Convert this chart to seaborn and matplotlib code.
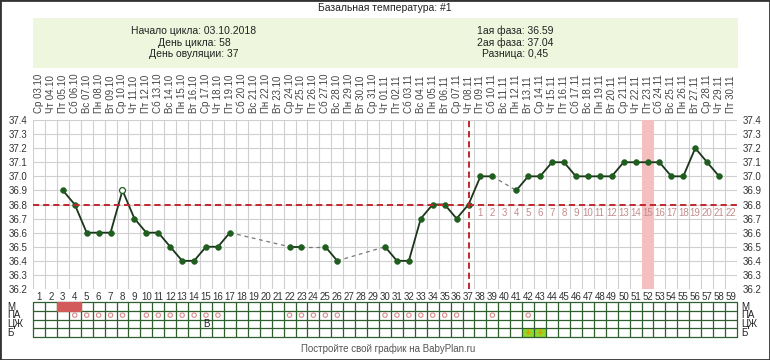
import numpy as np
import pandas as pd
import matplotlib.pyplot as plt
import seaborn as sns
from matplotlib.patches import Rectangle

# Chart data
weekdays = ['Ср', 'Чт', 'Пт', 'Сб', 'Вс', 'Пн', 'Вт'] * 8 + ['Ср', 'Чт', 'Пт']
dates = ['03.10', '04.10', '05.10', '06.10', '07.10', '08.10', '09.10', '10.10', '11.10', '12.10',
         '13.10', '14.10', '15.10', '16.10', '17.10', '18.10', '19.10', '20.10', '21.10', '22.10',
         '23.10', '24.10', '25.10', '26.10', '27.10', '28.10', '29.10', '30.10', '31.10', '01.11',
         '02.11', '03.11', '04.11', '05.11', '06.11', '07.11', '08.11', '09.11', '10.11', '11.11',
         '12.11', '13.11', '14.11', '15.11', '16.11', '17.11', '18.11', '19.11', '20.11', '21.11',
         '22.11', '23.11', '24.11', '25.11', '26.11', '27.11', '28.11', '29.11', '30.11']
cycle_days = list(range(1, 60))

temp_days = [3, 4, 5, 6, 7, 8, 9, 10, 11, 12, 13, 14, 15, 16, 17,
             22, 23, 25, 26,
             30, 31, 32, 33, 34, 35, 36, 37, 38, 39,
             41, 42, 43, 44, 45, 46, 47, 48, 49, 50, 51, 52, 53, 54, 55, 56, 57, 58]
temp_values = [36.9, 36.8, 36.6, 36.6, 36.6, 36.9, 36.7, 36.6, 36.6, 36.5, 36.4, 36.4, 36.5, 36.5, 36.6,
               36.5, 36.5, 36.5, 36.4,
               36.5, 36.4, 36.4, 36.7, 36.8, 36.8, 36.7, 36.8, 37.0, 37.0,
               36.9, 37.0, 37.0, 37.1, 37.1, 37.0, 37.0, 37.0, 37.0, 37.1, 37.1, 37.1, 37.1, 37.0, 37.0,
               37.2, 37.1, 37.0]
hollow_days = [8]

cover_temp = 36.8
ovulation_day = 37
highlight_day = 52
y_ticks = [36.2, 36.3, 36.4, 36.5, 36.6, 36.7, 36.8, 36.9, 37.0, 37.1, 37.2, 37.3, 37.4]

row_labels = ['М', 'ПА', 'ЦЖ', 'Б']
m_days = [3, 4]
pa_days = [4, 5, 6, 7, 8, 10, 11, 12, 13, 14, 15, 16, 22, 23, 24, 25, 26,
           30, 31, 32, 33, 34, 35, 36, 39, 42]
cm_days = [15]
cm_marks = ['В']
b_days = [42, 43]

info_left = ['Начало цикла: 03.10.2018', 'День цикла: 58', 'День овуляции: 37']
info_right = ['1ая фаза: 36.59', '2ая фаза: 37.04', 'Разница: 0,45']

df = pd.DataFrame({'day': temp_days, 'temp': temp_values})
df['segment'] = (df['day'].diff() != 1).cumsum()
df['hollow'] = df['day'].isin(hollow_days)

sns.set_style('white')
plt.rcParams['font.family'] = ['Liberation Sans', 'DejaVu Sans']

W, H = 770, 360
fig = plt.figure(figsize=(7.7, 3.6), dpi=100)


def frac(x0, y0, x1, y1):
    return [x0 / W, 1 - y1 / H, (x1 - x0) / W, (y1 - y0) / H]


# header
fig.text(385 / W, 1 - 8 / H, 'Базальная температура: #1', ha='center', va='center',
         fontsize=7.5, color='#222222')
fig.patches.append(Rectangle((33 / W, 1 - 68 / H), 705 / W, 50 / H, transform=fig.transFigure,
                             facecolor='#eef6dd', edgecolor='none', zorder=0))
for i, (l, r) in enumerate(zip(info_left, info_right)):
    y = 1 - (31 + 11.5 * i) / H
    fig.text(194 / W, y, l, ha='center', va='center', fontsize=7.5, color='#222222')
    fig.text(515 / W, y, r, ha='center', va='center', fontsize=7.5, color='#222222')

# temperature chart
ax = fig.add_axes(frac(33, 120, 737, 289))
ax.set_xlim(0.5, 59.5)
ax.set_ylim(36.2, 37.4)
for b in np.arange(0.5, 60.0, 1.0):
    ax.axvline(b, color='#d0d0d0', lw=0.8, zorder=0.5)
for t in y_ticks:
    ax.axhline(t, color='#d0d0d0', lw=0.8, zorder=0.5)
ax.axvspan(highlight_day - 0.5, highlight_day + 0.5, color='#f6bfbf', lw=0, zorder=1)

# dashed links over missing days
segs = [g for _, g in df.groupby('segment')]
for a, b in zip(segs[:-1], segs[1:]):
    ax.plot([a['day'].iloc[-1], b['day'].iloc[0]], [a['temp'].iloc[-1], b['temp'].iloc[0]],
            color='#777777', lw=0.9, ls=(0, (3, 3)), zorder=2)

sns.lineplot(data=df, x='day', y='temp', units='segment', estimator=None, color='#1b351b',
             lw=1.3, ax=ax, zorder=3, legend=False)
sns.scatterplot(data=df[~df['hollow']], x='day', y='temp', color='#1f5e1f', edgecolor='#1f5e1f',
                s=18, ax=ax, zorder=4, legend=False)
sns.scatterplot(data=df[df['hollow']], x='day', y='temp', color='white', edgecolor='#1f5e1f',
                linewidth=0.9, s=18, ax=ax, zorder=4, legend=False)

ax.axhline(cover_temp, color='#c0282d', lw=1.4, ls=(0, (3.2, 2)), zorder=5)
ax.axvline(ovulation_day, color='#c0282d', lw=1.4, ls=(0, (3.2, 2)), zorder=5)

for d in cycle_days:
    if d > ovulation_day:
        ax.text(d, cover_temp - 0.025, str(d - ovulation_day), ha='center', va='top',
                fontsize=7, color='#c48c8c', zorder=6)

ax.set_xticks(cycle_days)
ax.set_xticklabels([str(d) for d in cycle_days])
ax.set_yticks(y_ticks)
ax.set_yticklabels(['%.1f' % t for t in y_ticks])
ax.tick_params(axis='x', length=0, pad=2, labelsize=7, labelcolor='#333333')
ax.tick_params(axis='y', length=0, pad=4, labelsize=7, labelcolor='#333333',
               left=True, right=True, labelleft=True, labelright=True)
ax.set_xlabel('')
ax.set_ylabel('')
for s in ax.spines.values():
    s.set_visible(False)

top = ax.secondary_xaxis('top')
top.set_xticks(cycle_days)
top.set_xticklabels([w + ' ' + d for w, d in zip(weekdays, dates)], rotation=90)
top.tick_params(length=0, pad=5, labelsize=7, labelcolor='#444444')
for s in top.spines.values():
    s.set_visible(False)

# observation table
tab = fig.add_axes(frac(33, 302, 737, 337))
tab.set_xlim(0.5, 59.5)
tab.set_ylim(4, 0)
tab.axis('off')
for d in b_days:
    tab.add_patch(Rectangle((d - 0.5, 3), 1, 1, facecolor='#8fd82e', edgecolor='none', zorder=1))
    tab.text(d, 3.5, '+', ha='center', va='center', fontsize=8, color='#c8a400',
             fontweight='bold', zorder=3)
for b in np.arange(0.5, 60.0, 1.0):
    tab.plot([b, b], [0, 4], color='#2f5f2f', lw=0.9, zorder=2, clip_on=False)
for r in range(5):
    tab.plot([0.5, 59.5], [r, r], color='#2f5f2f', lw=0.9, zorder=2, clip_on=False)
tab.add_patch(Rectangle((min(m_days) - 0.5, 0), len(m_days), 1, facecolor='#d25a5a',
                        edgecolor='#d25a5a', lw=0.9, zorder=3, clip_on=False))
tab.scatter(pa_days, [1.5] * len(pa_days), s=10, facecolor='none', edgecolor='#d88a8a',
            linewidth=0.8, zorder=3)
for d, m in zip(cm_days, cm_marks):
    tab.text(d, 2.5, m, ha='center', va='center', fontsize=7, color='#222222', zorder=3)

for i, lab in enumerate(row_labels):
    y = 1 - (306.5 + 8.7 * i) / H
    fig.text(7 / W, y, lab, ha='left', va='center', fontsize=7, color='#222222')
    fig.text(741 / W, y, lab, ha='left', va='center', fontsize=7, color='#222222')

fig.text(388 / W, 1 - 349 / H, 'Постройте свой график на BabyPlan.ru', ha='center', va='center',
         fontsize=7, color='#555555')

fig.patches.append(Rectangle((0, 0), 1, 1, transform=fig.transFigure, fill=False,
                             edgecolor='#333333', lw=2))

fig.savefig('out.png', dpi=100)
